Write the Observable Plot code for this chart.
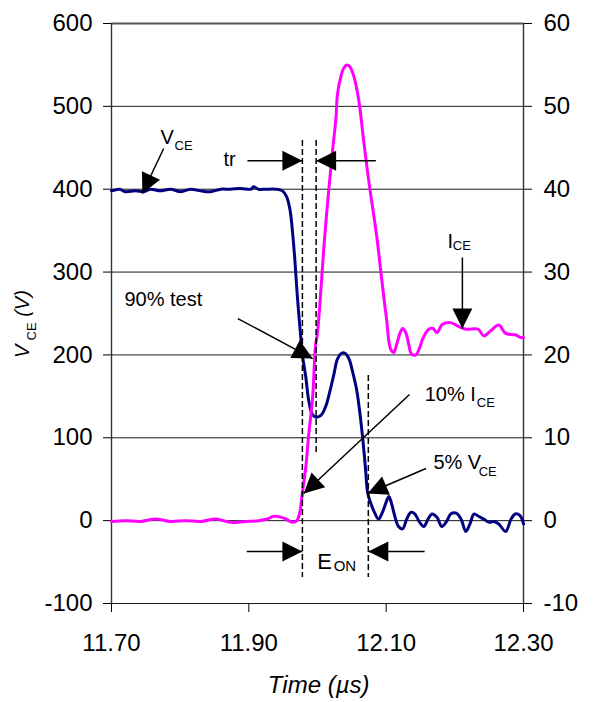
<!DOCTYPE html>
<html>
<head>
<meta charset="utf-8">
<script src="https://cdn.jsdelivr.net/npm/d3@7"></script>
<script src="https://cdn.jsdelivr.net/npm/@observablehq/plot@0.6"></script>
<style>
  html, body { margin: 0; padding: 0; background: #ffffff; }
</style>
</head>
<body>
<div id="chart"></div>
<script>
// ---- Data ----
const vceTime = [11.700, 11.712, 11.720, 11.735, 11.747, 11.757, 11.771, 11.786, 11.801, 11.815, 11.830, 11.844, 11.859, 11.873, 11.888, 11.903, 11.907, 11.914, 11.925, 11.939, 11.949, 11.955, 11.960, 11.964, 11.967, 11.971, 11.976, 11.978, 11.983, 11.987, 11.992, 11.997, 12.005, 12.012, 12.018, 12.024, 12.029, 12.035, 12.040, 12.046, 12.051, 12.057, 12.062, 12.066, 12.070, 12.073, 12.078, 12.083, 12.089, 12.095, 12.099, 12.104, 12.108, 12.113, 12.118, 12.124, 12.130, 12.136, 12.142, 12.148, 12.155, 12.161, 12.167, 12.174, 12.181, 12.188, 12.194, 12.202, 12.209, 12.216, 12.222, 12.228, 12.235, 12.242, 12.250, 12.257, 12.264, 12.274, 12.282, 12.288, 12.295, 12.300];
const vceVolts = [398, 400, 397, 398, 397, 400, 398, 400, 397, 400, 398, 397, 400, 400, 401, 400, 403, 400, 400, 400, 398, 391, 375, 345, 315, 267, 218, 200, 173, 146, 129, 125, 127, 138, 156, 177, 195, 202, 202, 195, 180, 158, 128, 98, 62, 34, 20, 10, 2, 11, 20, 29, 20, 4, -7, -10, 2, 10, 8, -1, -7, 2, 8, 4, -7, -1, 8, 9, 2, -13, -4, 8, 5, 2, -2, -1, -4, -13, 2, 8, 6, -4];

const iceTime = [11.700, 11.720, 11.742, 11.764, 11.786, 11.808, 11.830, 11.852, 11.873, 11.895, 11.914, 11.927, 11.935, 11.942, 11.951, 11.958, 11.964, 11.970, 11.974, 11.978, 11.983, 11.987, 11.993, 11.997, 12.000, 12.005, 12.009, 12.016, 12.022, 12.027, 12.029, 12.034, 12.038, 12.043, 12.047, 12.053, 12.060, 12.067, 12.073, 12.079, 12.086, 12.093, 12.098, 12.101, 12.104, 12.107, 12.111, 12.115, 12.120, 12.124, 12.129, 12.133, 12.137, 12.143, 12.149, 12.153, 12.162, 12.168, 12.174, 12.182, 12.194, 12.204, 12.216, 12.234, 12.242, 12.252, 12.264, 12.274, 12.289, 12.296, 12.300];
const iceAmps = [-0.1, 0.0, -0.1, 0.2, -0.1, 0.0, -0.1, 0.2, -0.2, -0.1, 0.0, 0.2, 0.5, 0.5, 0.3, 0.0, -0.2, 0.0, 0.9, 3.4, 6.5, 10.2, 15.0, 21.0, 22.7, 27.9, 32.7, 39.6, 44.7, 48.7, 51.4, 53.6, 54.6, 55.0, 54.8, 53.6, 50.8, 46.0, 42.0, 38.5, 34.5, 29.5, 26.0, 24.0, 21.6, 20.6, 20.3, 21.2, 22.6, 23.2, 22.6, 21.2, 20.1, 20.0, 20.9, 21.9, 23.1, 23.2, 22.7, 23.7, 23.9, 23.5, 23.1, 23.1, 22.3, 22.9, 23.6, 22.6, 22.4, 22.1, 22.1];

const voltTicks = [-100, 0, 100, 200, 300, 400, 500, 600];
const ampTicks = [-10, 0, 10, 20, 30, 40, 50, 60];
const timeTicks = [11.70, 11.90, 12.10, 12.30];
const ampToVoltFactor = 10;

// dashed marker lines (time, top volts, bottom volts)
const dashTime = [11.978, 11.998, 12.074];
const dashTop = [458.7, 458.7, 175.1];
const dashBottom = [-68.7, 82.2, -68.7];

// annotation arrows (from -> tip), in data units
const arrowFromT = [11.776, 11.898, 12.085, 11.884, 12.134, 12.158, 12.211, 11.897, 12.156];
const arrowFromV = [449.1, 434.5, 434.5, 243.9, 152.2, 62.9, 317.5, -37.3, -37.3];
const arrowToT = [11.745, 11.978, 11.998, 11.993, 11.980, 12.073, 12.211, 11.978, 12.074];
const arrowToV = [394.8, 434.5, 434.5, 195.6, 32.7, 32.7, 231.8, -37.3, -37.3];

// annotation labels
const labelText = ["V", "tr", "90% test", "10% I", "5% V", "I"];
const labelT = [11.7714, 11.8632, 11.7189, 12.1561, 12.1688, 12.1892];
const labelV = [454.5, 428.6, 259.6, 144.9, 62.9, 329.0];
const subText = ["CE", "CE", "CE", "CE"];
const subT = [11.7918, 12.2319, 12.2347, 12.1970];
const subV = [446.8, 137.7, 54.4, 327.2];
const eonText = ["E", "ON"];
const eonT = [11.9998, 12.0235];
const eonV = [-57.8, -60.2];

const xLabel = "Time (µs)";
const xLabelPos = [12.0017, -207.5];
const yLabelText = ["V", "CE", "(V)"];
const yLabelT = [11.5805, 11.5907, 11.5805];
const yLabelV = [196.2, 217.4, 246.0];

// ---- Layout ----
const W = 594, H = 702;
const mL = 111, mR = 71, mT = 23, mB = 99;
const xDomain = [11.70, 12.30], yDomain = [-100, 600];
const kx = (W - mL - mR) / (xDomain[1] - xDomain[0]);
const ky = (H - mT - mB) / (yDomain[1] - yDomain[0]);

const vce = vceTime.map((t, i) => ({t, v: vceVolts[i]}));
const ice = iceTime.map((t, i) => ({t, v: iceAmps[i] * ampToVoltFactor}));
const dashes = dashTime.map((t, i) => ({t, y1: dashTop[i], y2: dashBottom[i]}));
const arrows = arrowFromT.map((t, i) => {
  const sx = (arrowToT[i] - t) * kx;
  const sy = -(arrowToV[i] - arrowFromV[i]) * ky;
  return {x1: t, y1: arrowFromV[i], x2: arrowToT[i], y2: arrowToV[i],
          angle: Math.atan2(sx, -sy) * 180 / Math.PI};
});
const labels = labelText.map((s, i) => ({s, t: labelT[i], v: labelV[i]}));
const subs = subText.map((s, i) => ({s, t: subT[i], v: subV[i]}));

// filled arrowhead with its tip at the origin, pointing up
const arrowHead = {
  draw(ctx, size) {
    const r = Math.sqrt(size / Math.PI);
    ctx.moveTo(0, 0);
    ctx.lineTo(-r, 2 * r);
    ctx.lineTo(r, 2 * r);
    ctx.closePath();
  }
};

const chart = Plot.plot({
  width: W, height: H,
  marginLeft: mL, marginRight: mR, marginTop: mT, marginBottom: mB,
  x: {domain: xDomain},
  y: {domain: yDomain},
  style: {fontFamily: "'Liberation Sans', Arial, Helvetica, sans-serif", fontSize: "24px", background: "#ffffff", color: "#000"},
  marks: [
    Plot.ruleY(voltTicks, {stroke: "#1a1a1a", strokeWidth: 1}),
    Plot.ruleY([yDomain[1]], {stroke: "#555", strokeWidth: 1.8}),
    Plot.ruleX(xDomain, {stroke: "#333", strokeWidth: 1.4}),
    Plot.axisY(voltTicks, {anchor: "left", tickSize: 8, tickPadding: 11, tickFormat: d => String(d), label: null}),
    Plot.axisY(ampTicks.map(a => a * ampToVoltFactor), {anchor: "right", tickSize: 8, tickPadding: 12, tickFormat: d => String(Math.round(d / ampToVoltFactor)), label: null}),
    Plot.axisX(timeTicks, {anchor: "bottom", tickSize: 9, tickPadding: 21, tickFormat: d => d.toFixed(2), label: null}),
    Plot.line(vce, {x: "t", y: "v", stroke: "#000080", strokeWidth: 3, curve: "catmull-rom"}),
    Plot.line(ice, {x: "t", y: "v", stroke: "#ff00ff", strokeWidth: 3, curve: "catmull-rom"}),
    Plot.ruleX(dashes, {x: "t", y1: "y1", y2: "y2", stroke: "#000", strokeWidth: 1.5, strokeDasharray: "6,3"}),
    Plot.link(arrows, {x1: "x1", y1: "y1", x2: "x2", y2: "y2", stroke: "#000", strokeWidth: 1.5}),
    Plot.dot(arrows, {x: "x2", y: "y2", symbol: arrowHead, r: 10, fill: "#000", stroke: "none", rotate: "angle"}),
    Plot.text(labels, {x: "t", y: "v", text: "s", fontSize: 20, textAnchor: "start", lineAnchor: "bottom", fill: "#000"}),
    Plot.text(subs, {x: "t", y: "v", text: "s", fontSize: 13, textAnchor: "start", lineAnchor: "bottom", fill: "#000"}),
    Plot.text([eonText[0]], {x: () => eonT[0], y: () => eonV[0], text: d => d, fontSize: 22, textAnchor: "start", lineAnchor: "bottom", fill: "#000"}),
    Plot.text([eonText[1]], {x: () => eonT[1], y: () => eonV[1], text: d => d, fontSize: 15, textAnchor: "start", lineAnchor: "bottom", fill: "#000"}),
    Plot.text([xLabel], {x: () => xLabelPos[0], y: () => xLabelPos[1], text: d => d, fontSize: 24, fontStyle: "italic", textAnchor: "middle", lineAnchor: "bottom", fill: "#000"}),
    Plot.text([yLabelText[0]], {x: () => yLabelT[0], y: () => yLabelV[0], text: d => d, fontSize: 20, fontStyle: "italic", rotate: -90, textAnchor: "start", lineAnchor: "bottom", fill: "#000"}),
    Plot.text([yLabelText[1]], {x: () => yLabelT[1], y: () => yLabelV[1], text: d => d, fontSize: 13, rotate: -90, textAnchor: "start", lineAnchor: "bottom", fill: "#000"}),
    Plot.text([yLabelText[2]], {x: () => yLabelT[2], y: () => yLabelV[2], text: d => d, fontSize: 20, fontStyle: "italic", rotate: -90, textAnchor: "start", lineAnchor: "bottom", fill: "#000"})
  ]
});
document.getElementById("chart").appendChild(chart);
</script>
</body>
</html>
